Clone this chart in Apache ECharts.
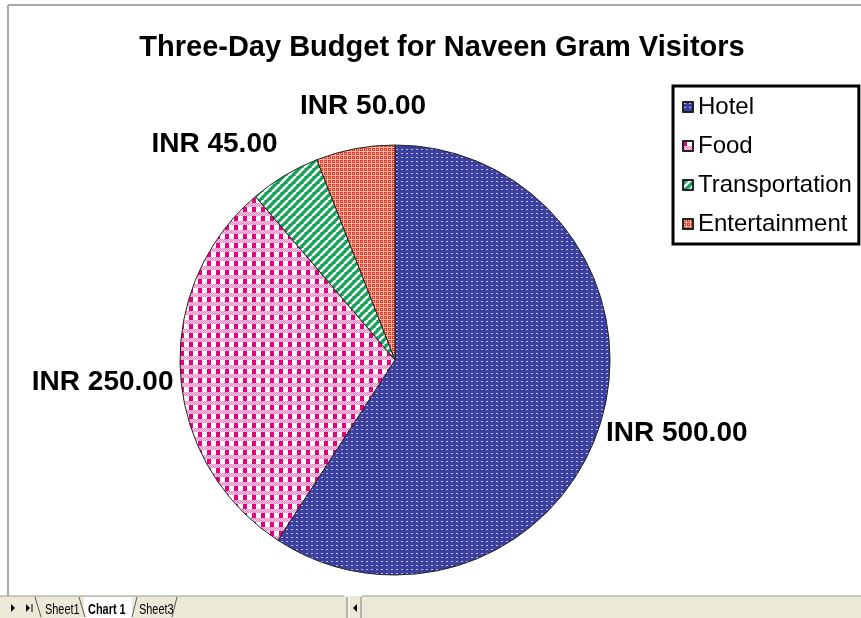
<!DOCTYPE html>
<html><head><meta charset="utf-8">
<script src="https://cdn.jsdelivr.net/npm/echarts@6/dist/echarts.min.js"></script>
<style>html,body{margin:0;padding:0;background:#fff}#chart{width:861px;height:618px}</style>
</head><body><div id="chart"></div>
<script>
// Budget categories and amounts (INR)
const categories = ['Hotel', 'Food', 'Transportation', 'Entertainment'];
const amounts = [500, 250, 45, 50];
const sheetTabs = ['Sheet1', 'Chart 1', 'Sheet3'];

// Small repeating canvas tiles used as hatch fills
function tile(w, h, draw) {
  const c = document.createElement('canvas');
  c.width = w; c.height = h;
  draw(c.getContext('2d'), w, h);
  return { image: c, repeat: 'repeat' };
}
const fills = [
  tile(5, 4, g => { g.fillStyle = '#3c409f'; g.fillRect(0, 0, 5, 4); g.fillStyle = '#b8bbe8'; g.fillRect(1, 1, 2, 1); }),
  tile(9, 9, g => {
    g.fillStyle = '#fff'; g.fillRect(0, 0, 9, 9);
    g.fillStyle = '#e6007e'; g.fillRect(0, 0, 4, 5);
    for (let y = 5; y < 9; y++) for (let x = 0; x < 9; x++) {
      g.fillStyle = ((x + y) % 2) ? '#f27fbf' : '#fbd3e8'; g.fillRect(x, y, 1, 1);
    }
  }),
  tile(8, 8, g => {
    g.fillStyle = '#13a155'; g.fillRect(0, 0, 8, 8);
    g.strokeStyle = '#fff'; g.lineWidth = 2.6;
    for (const o of [-8, 0, 8]) { g.beginPath(); g.moveTo(o, 8); g.lineTo(o + 8, 0); g.stroke(); }
  }),
  tile(4, 4, g => {
    g.fillStyle = '#fab8a8'; g.fillRect(0, 0, 4, 4);
    g.fillStyle = '#ef3b26'; g.fillRect(0, 0, 3, 3);
    g.fillStyle = '#ffe2d8'; g.fillRect(1, 1, 1, 1);
  })
];

// Nudges that place each value label where the workbook puts it
const labelShift = [[-6, 10], [4, 8], [1, -26], [77, -37]];

const font = "'Liberation Sans', Arial, sans-serif";

// Sheet tab strip along the bottom edge
const tabY = 596;
const tabText = (x, text, bold) => ({
  type: 'text', x, y: 610, scaleX: 0.78, originX: 0, originY: 0,
  style: { text, font: (bold ? 'bold ' : '') + '14px ' + font, fill: '#000', verticalAlign: 'middle' }
});
const tabGraphics = [
  { type: 'rect', shape: { x: 0, y: tabY, width: 861, height: 22 }, style: { fill: '#ece9d8' }, silent: true },
  { type: 'line', shape: { x1: 0, y1: tabY, x2: 344, y2: tabY }, style: { stroke: '#9c9a90', lineWidth: 1 } },
  { type: 'line', shape: { x1: 362, y1: tabY, x2: 861, y2: tabY }, style: { stroke: '#9c9a90', lineWidth: 1 } },
  { type: 'polygon', shape: { points: [[11, 604], [11, 612], [15, 608]] }, style: { fill: '#000' } },
  { type: 'polygon', shape: { points: [[26, 604], [26, 612], [30, 608]] }, style: { fill: '#000' } },
  { type: 'line', shape: { x1: 32, y1: 604, x2: 32, y2: 612 }, style: { stroke: '#000', lineWidth: 1 } },
  { type: 'polyline', shape: { points: [[35, 597], [41, 617]] }, style: { stroke: '#555', lineWidth: 1 } },
  { type: 'rect', shape: { x: 84, y: 597, width: 48, height: 21 }, style: { fill: '#fff' } },
  { type: 'polyline', shape: { points: [[79, 597], [85, 617]] }, style: { stroke: '#555', lineWidth: 1 } },
  { type: 'polyline', shape: { points: [[132, 617], [137, 597]] }, style: { stroke: '#555', lineWidth: 1 } },
  { type: 'polyline', shape: { points: [[172, 617], [177, 597]] }, style: { stroke: '#555', lineWidth: 1 } },
  tabText(45, sheetTabs[0], false),
  tabText(88, sheetTabs[1], true),
  tabText(139, sheetTabs[2], false),
  { type: 'line', shape: { x1: 347, y1: 597, x2: 347, y2: 618 }, style: { stroke: '#808080', lineWidth: 1 } },
  { type: 'line', shape: { x1: 349, y1: 597, x2: 349, y2: 618 }, style: { stroke: '#fff', lineWidth: 1 } },
  { type: 'polygon', shape: { points: [[357, 604], [357, 612], [353, 608]] }, style: { fill: '#000' } },
  { type: 'line', shape: { x1: 361, y1: 597, x2: 361, y2: 618 }, style: { stroke: '#808080', lineWidth: 1 } }
];

const chart = echarts.init(document.getElementById('chart'), null, { renderer: 'canvas' });
chart.setOption({
  backgroundColor: '#fff',
  animation: false,
  title: {
    text: 'Three-Day Budget for Naveen Gram Visitors',
    left: 437, top: 28, textAlign: 'center',
    textStyle: { fontFamily: font, fontWeight: 'bold', fontSize: 29, color: '#000' }
  },
  legend: {
    orient: 'vertical',
    left: 673, top: 86,
    padding: [9, 7, 8, 9],
    itemGap: 15,
    itemWidth: 10, itemHeight: 10,
    icon: 'rect',
    borderColor: '#000', borderWidth: 3,
    backgroundColor: '#fff',
    textStyle: { fontFamily: font, fontSize: 24, color: '#000' },
    data: categories
  },
  graphic: [
    { type: 'line', shape: { x1: 8, y1: 5, x2: 861, y2: 5 }, style: { stroke: '#a8a8a8', lineWidth: 2 } },
    { type: 'line', shape: { x1: 8, y1: 5, x2: 8, y2: 596 }, style: { stroke: '#a8a8a8', lineWidth: 2 } },
    ...tabGraphics
  ],
  series: [{
    type: 'pie',
    center: [395, 360],
    radius: 215,
    startAngle: 90,
    clockwise: true,
    avoidLabelOverlap: false,
    itemStyle: { borderColor: '#222', borderWidth: 1 },
    label: {
      show: true, position: 'outside',
      formatter: p => 'INR ' + p.value.toFixed(2),
      fontFamily: font, fontWeight: 'bold', fontSize: 28, color: '#000'
    },
    labelLine: { show: false, length: 6, length2: 0 },
    labelLayout: p => ({ dx: labelShift[p.dataIndex][0], dy: labelShift[p.dataIndex][1] }),
    emphasis: { disabled: true },
    data: categories.map((name, i) => ({ name, value: amounts[i], itemStyle: { color: fills[i] } }))
  }]
});
</script></body></html>
